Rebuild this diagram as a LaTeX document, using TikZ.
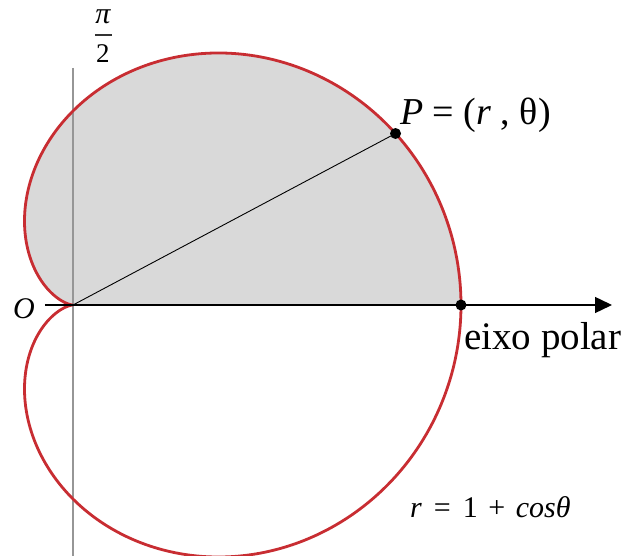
\documentclass[tikz,border=0pt]{standalone}
\usepackage{fontspec}
\setmainfont{Liberation Serif}
\usetikzlibrary{arrows.meta}
\definecolor{curvered}{RGB}{200,45,50}
\definecolor{fillgray}{RGB}{217,217,217}
\definecolor{axisgray}{RGB}{150,150,150}
\tikzset{
  curve/.style={draw=curvered,line width=2.8pt},
  dotpt/.style={circle,fill=black,inner sep=0pt,minimum size=11pt},
  lbl/.style={inner sep=0pt,font=\fontsize{38}{42}\selectfont},
}
\begin{document}
\begin{tikzpicture}[x=1pt,y=1pt]
\useasboundingbox (-73,-251) rectangle (549,305);
% shaded upper half
\fill[fillgray] plot[domain=0:180,samples=181,smooth] ({194*(1+cos(\x))*cos(\x)},{194*(1+cos(\x))*sin(\x)}) -- cycle;
% vertical axis
\coordinate (vt) at (0,237);
\coordinate (vb) at (0,-251);
\draw[axisgray,line width=2pt] (vt) -- (vb);
% radius to P
\coordinate (O) at (0,0);
\coordinate (Pp) at ({194*(1+cos(28))*cos(28)},{194*(1+cos(28))*sin(28)});
\draw[black,line width=0.9pt] (O) -- (Pp);
% cardioid
\draw[curve] plot[domain=0:360,samples=361,smooth] ({194*(1+cos(\x))*cos(\x)},{194*(1+cos(\x))*sin(\x)}) -- cycle;
% polar axis
\coordinate (hl) at (-28,0);
\coordinate (hr) at (539,0);
\draw[black,line width=1.4pt,-{Triangle[length=17pt,width=16pt]}] (hl) -- (hr);
% points
\node[dotpt] (P) at (Pp) {};
\node[dotpt] (A) at (388,0) {};
% labels
\node[lbl,font=\fontsize{30}{34}\selectfont\itshape] (Olbl) at (-49,-4) {O};
\node[lbl,anchor=west] (Plbl) at (327,190) {\textit{P} = (\textit{r} , θ)};
\node[lbl,anchor=base west,font=\fontsize{39}{42}\selectfont] (eixo) at (391,-45) {eixo polar};
\node[lbl,anchor=base west,font=\fontsize{30}{33}\selectfont] (eq) at (337,-213) {\textit{r}\hspace{0.4em}=\hspace{0.4em}1\hspace{0.35em}+\hspace{0.35em}\textit{cosθ}};
% pi/2
\node[inner sep=0pt,font=\fontsize{30}{32}\selectfont\itshape] (pi) at (30,288) {π};
\coordinate (barl) at (22,270);
\coordinate (barr) at (39,270);
\draw[black!80,line width=1.5pt] (barl) -- (barr);
\node[inner sep=0pt,font=\fontsize{27}{30}\selectfont] (two) at (30,251) {2};
\end{tikzpicture}
\end{document}
